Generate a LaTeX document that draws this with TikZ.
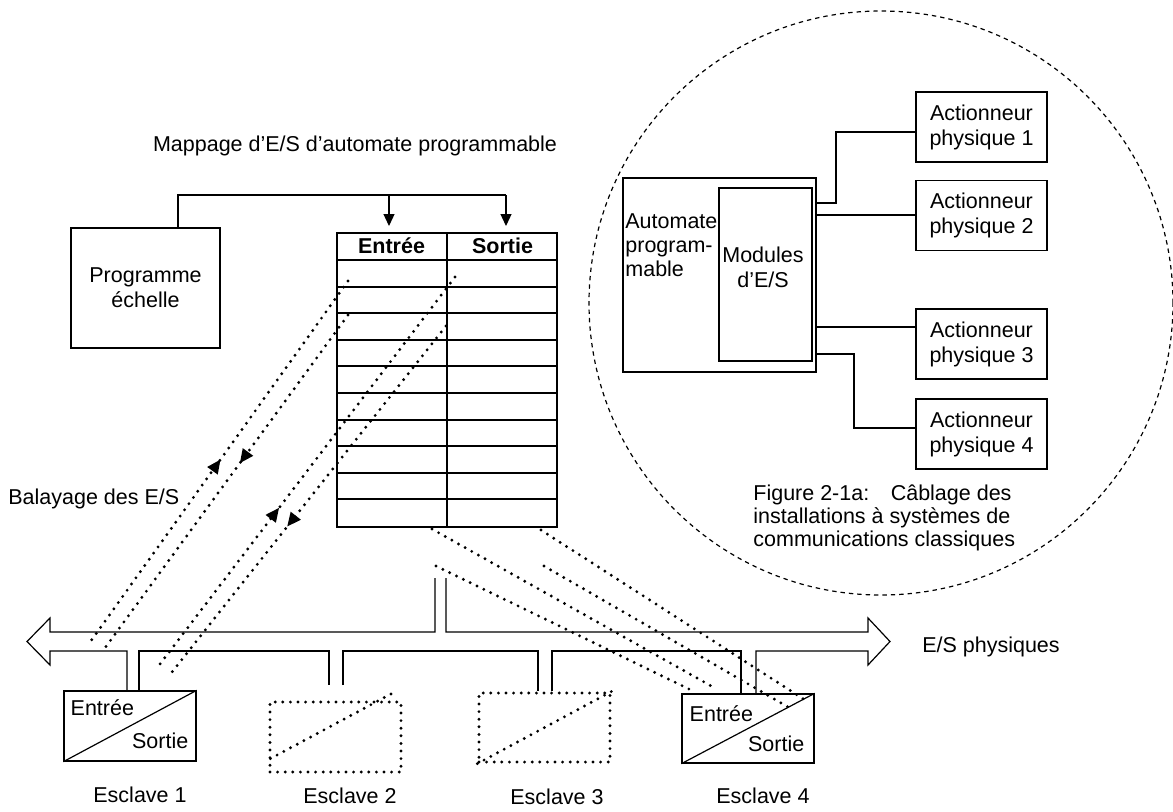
\documentclass[tikz,border=0pt]{standalone}
\usepackage{fontspec}
\setmainfont{Liberation Sans}
\usetikzlibrary{calc,arrows.meta,decorations.markings}

\begin{document}
\begin{tikzpicture}[
        x=0.5pt, y=-0.5pt,
        inner sep=0pt,
        font=\fontsize{10.75}{12.5}\selectfont,
        box/.style={
                draw,
                line width=0.7pt,
                align=center
            },
        dotbox/.style={
                draw,
                line width=1.6pt,
                line cap=round,
                dash pattern=on 0pt off 3.8pt
            },
        scan/.style={line width=1.6pt, line cap=round, dash pattern=on 0pt off 3.8pt},
        wire/.style={line width=0.6pt},
        feed/.style={-{Triangle[length=6pt,width=5.5pt]}},
        arrowin/.style={postaction={decorate, solid, decoration={markings,
                mark=at position #1 with {\arrowreversed{Triangle[length=7pt,width=6pt]}}}}},
        arrowout/.style={postaction={decorate, solid, decoration={markings,
                mark=at position #1 with {\arrow{Triangle[length=7pt,width=6pt]}}}}}
    ]
    \useasboundingbox (0,0) rectangle (1173,811);

    % ---- Sizes ----
    \def\busT{632}
    \def\busB{651}

    % ---- Title and programme ----
    \node (title) at (355,146) {Mappage d'E/S d'automate programmable};
    \node[box, minimum width=74.5pt, minimum height=60pt] (prog) at (145.5,288) {Programme\\échelle};

    % ---- Mapping table ----
    \node[draw, line width=1pt, minimum width=110pt, minimum height=147pt] (map) at (447,380) {};
    \draw[line width=1pt] (map.north) -- (map.south);
    \foreach \i in {0,...,9}
        \draw[line width=1pt] ($(map.north west)+(0,28+26.6*\i)$) -- ($(map.north east)+(0,28+26.6*\i)$);
    \node[font=\fontsize{10.75}{12}\selectfont\bfseries] (hin) at ($(map.north west)!0.5!(map.north)+(0,14)$) {Entrée};
    \node[font=\fontsize{10.75}{12}\selectfont\bfseries] (hout) at ($(map.north)!0.5!(map.north east)+(0,14)$) {Sortie};

    % feed from programme to table
    \draw[wire] (178,0 |- prog.north) |- (506,195);
    \draw[wire, feed, shorten >=3pt] (389,195) -- (389,0 |- map.north);
    \draw[wire, feed, shorten >=3pt] (506,195) -- (506,0 |- map.north);

    % ---- Slaves ----
    \node[box, minimum width=66pt, minimum height=35pt] (s1) at (130,726) {};
    \draw[wire] (s1.south west) -- (s1.north east);
    \node[anchor=west] (s1in) at ($(s1.north west)+(7,17)$) {Entrée};
    \node[anchor=east] (s1out) at ($(s1.south east)+(-8,-21)$) {Sortie};

    \node[dotbox, minimum width=65.5pt, minimum height=35pt] (s2) at (335.5,737) {};
    \draw[scan] ($(s2.south west)+(2,-15)$) -- ($(s2.north east)+(-5,-10)$);

    \node[dotbox, minimum width=65.5pt, minimum height=34.5pt] (s3) at (544.5,727.5) {};
    \draw[scan] (s3.south west) -- (s3.north east);

    \node[box, minimum width=66pt, minimum height=34.5pt] (s4) at (748,728.5) {};
    \draw[wire] (s4.south west) -- (s4.north east);
    \node[anchor=west] (s4in) at ($(s4.north west)+(8,20)$) {Entrée};
    \node[anchor=east] (s4out) at ($(s4.south east)+(-10,-20)$) {Sortie};

    \foreach \n/\x/\y in {1/140/795, 2/350/796, 3/557/797, 4/763/796}
        \node (lab\n) at (\x,\y) {Esclave \n};

    % ---- Bus (E/S physiques) ----
    \draw[wire] (435,578) -- (435,\busT) -- (50,\busT) -- (50,618) -- (27,641.5) -- (50,665) -- (50,\busB)
        -- (127,\busB) -- (127,0 |- s1.north);
    \draw[wire] (139,0 |- s1.north) -- (139,\busB) -- (329,\busB) -- (329,685);
    \draw[wire] (343,685) -- (343,\busB) -- (538,\busB) -- (538,0 |- s3.north);
    \draw[wire] (552,0 |- s3.north) -- (552,\busB) -- (741,\busB) -- (741,0 |- s4.north);
    \draw[wire] (756,0 |- s4.north) -- (756,\busB) -- (868,\busB) -- (868,665) -- (890,641.5) -- (868,618)
        -- (868,\busT) -- (446,\busT) -- (446,578);
    \node (buslabel) at (991,647) {E/S physiques};

    % ---- I/O scan ----
    \coordinate (inA) at (348,281);   \coordinate (slA) at (88,645);
    \coordinate (outA) at (348,315);  \coordinate (slB) at (102,652);
    \coordinate (inB) at (455,277);   \coordinate (slC) at (157,668);
    \coordinate (outB) at (446,326);  \coordinate (slD) at (172,672);
    \draw[scan, arrowin=0.49] (inA) -- (slA);
    \draw[scan, arrowout=0.44] (outA) -- (slB);
    \draw[scan, arrowin=0.59] (inB) -- (slC);
    \draw[scan, arrowout=0.58] (outB) -- (slD);
    \node[anchor=west] (scanlabel) at (8,499) {Balayage des E/S};

    % table to slave 4
    \draw[scan] (432,529) -- (713,687);
    \draw[scan] (436,566) -- (693,691);
    \draw[scan] (541,530) -- (805,700);
    \draw[scan] (544,566) -- (788,707);

    % ---- Classic wiring (circle) ----
    \draw[line width=0.6pt, dash pattern=on 2.2pt off 2pt] (881,303) circle[radius=146pt];
    \node[box, minimum width=96.5pt, minimum height=97pt] (plc) at (719.5,275) {};
    \node[box, minimum width=46.5pt, minimum height=86.5pt] (mod) at (765.5,274.5) {};
    \node[anchor=west, align=left, font=\fontsize{10.75}{12}\selectfont] (plctext) at (625,245) {Automate\\program-\\mable};
    \node[align=center] (modtext) at (763,267) {Modules\\d'E/S};
    \foreach \n/\y in {1/127, 2/215.5, 3/344, 4/434}
        \node[box, minimum width=65.5pt, minimum height=35pt] (act\n) at (981.5,\y) {Actionneur\\physique \n};

    \draw[wire] (plc.east |- 0,203) -| (836,132) -- (act1.west |- 0,132);
    \draw[wire] (plc.east |- 0,215) -- (act2.west |- 0,215);
    \draw[wire] (plc.east |- 0,327) -- (act3.west |- 0,327);
    \draw[wire] (plc.east |- 0,354) -| (854,428) -- (act4.west |- 0,428);

    \node[anchor=north west, align=left, font=\fontsize{10.75}{11.5}\selectfont] (caption) at (753,484)
        {Figure 2-1a:\hspace{1em}Câblage des\\installations à systèmes de\\communications classiques};
\end{tikzpicture}
\end{document}
